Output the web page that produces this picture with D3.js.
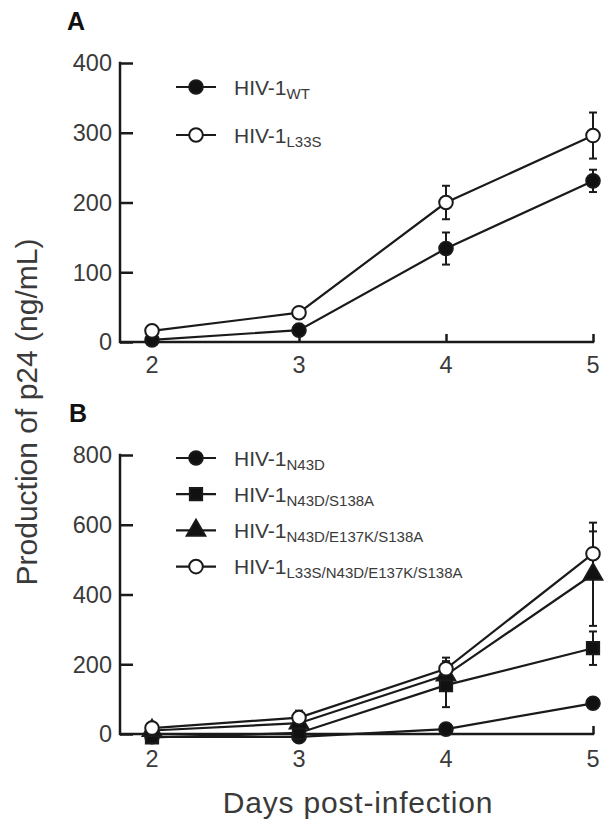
<!DOCTYPE html>
<html><head><meta charset="utf-8">
<script src="https://cdn.jsdelivr.net/npm/d3@7"></script>
<style>body{margin:0;background:#fff}svg{display:block}text{font-family:"Liberation Sans",Arial,sans-serif;fill:#3a3a3a}</style>
</head><body><div id="chart"></div>
<script>
const days = [2, 3, 4, 5];
const xTickLabels = ["2", "3", "4", "5"];
const yTicksA = [0, 100, 200, 300, 400];
const yTicksB = [0, 200, 400, 600, 800];

// Panel A
const wtMean = [3, 17, 134, 231];
const wtErr = [2, 4, 23, 16];
const l33sMean = [16, 42, 200, 296];
const l33sErr = [3, 4, 24, 33];

// Panel B
const n43dMean = [-8, -8, 14, 88];
const n43dErr = [2, 2, 5, 6];
const n43dS138aMean = [-10, 3, 140, 246];
const n43dS138aErr = [3, 4, 63, 48];
const tripleMean = [10, 31, 169, 458];
const tripleErr = [4, 8, 40, 148];
const quadMean = [17, 47, 187, 517];
const quadErr = [5, 20, 32, 64];

const seriesA = [
  {sub: "WT", mean: wtMean, err: wtErr, shape: "circle", fill: "#111"},
  {sub: "L33S", mean: l33sMean, err: l33sErr, shape: "circle", fill: "#fff"}
];
const seriesB = [
  {sub: "N43D", mean: n43dMean, err: n43dErr, shape: "circle", fill: "#111"},
  {sub: "N43D/S138A", mean: n43dS138aMean, err: n43dS138aErr, shape: "square", fill: "#111"},
  {sub: "N43D/E137K/S138A", mean: tripleMean, err: tripleErr, shape: "triangle", fill: "#111"},
  {sub: "L33S/N43D/E137K/S138A", mean: quadMean, err: quadErr, shape: "circle", fill: "#fff"}
];

const W = 614, H = 837;
const svg = d3.select("#chart").append("svg").attr("width", W).attr("height", H);
const ink = "#1a1a1a";

const x = d3.scaleLinear().domain([2, 5]).range([152, 593]);
const axisX0 = 120;

function symbolPath(shape) {
  const t = shape === "square" ? d3.symbolSquare : shape === "triangle" ? d3.symbolTriangle : d3.symbolCircle;
  const size = shape === "square" ? 150 : shape === "triangle" ? 150 : 145;
  return d3.symbol().type(t).size(size)();
}

function panel(opts) {
  const y = d3.scaleLinear().domain(opts.domain).range(opts.range);
  const g = svg.append("g");
  g.append("text").attr("x", opts.letterX).attr("y", opts.letterY)
    .style("font-weight", "bold").style("font-size", "25px").style("fill", "#111").text(opts.letter);

  const yAxis = d3.axisRight(y).tickValues(opts.yTicks).tickSize(13).tickFormat("");
  const ya = g.append("g").attr("transform", `translate(${axisX0},0)`).call(yAxis);
  ya.select(".domain").remove();
  ya.selectAll(".tick line").attr("stroke", ink).attr("stroke-width", 2.5);
  g.append("line").attr("x1", axisX0).attr("x2", axisX0)
    .attr("y1", y(opts.domain[1]) - 1.2).attr("y2", y(0) + 1.2)
    .attr("stroke", ink).attr("stroke-width", 2.5);
  g.selectAll(".ylab").data(opts.yTicks).enter().append("text")
    .attr("x", axisX0 - 8).attr("y", d => y(d)).attr("dy", "0.36em")
    .attr("text-anchor", "end").style("font-size", "23.5px").text(d => d);

  const xAxis = d3.axisTop(x).tickValues(days).tickSize(8).tickFormat("");
  const xa = g.append("g").attr("transform", `translate(0,${y(0)})`).call(xAxis);
  xa.select(".domain").remove();
  xa.selectAll(".tick line").attr("stroke", ink).attr("stroke-width", 2.5);
  g.append("line").attr("x1", axisX0).attr("x2", x(5) + 1.2)
    .attr("y1", y(0)).attr("y2", y(0)).attr("stroke", ink).attr("stroke-width", 2.5);
  g.selectAll(".xlab").data(days).enter().append("text")
    .attr("x", d => x(d)).attr("y", y(0) + opts.xLabDy)
    .attr("text-anchor", "middle").style("font-size", "23.5px").text((d, i) => xTickLabels[i]);

  const line = d3.line().x((d, i) => x(days[i])).y(d => y(d));
  opts.series.forEach(s => {
    g.append("path").attr("d", line(s.mean)).attr("fill", "none")
      .attr("stroke", ink).attr("stroke-width", 2.2);
  });
  opts.series.forEach(s => {
    s.mean.forEach((m, i) => {
      const e = s.err[i];
      const cx = x(days[i]);
      g.append("line").attr("x1", cx).attr("x2", cx).attr("y1", y(m - e)).attr("y2", y(m + e))
        .attr("stroke", ink).attr("stroke-width", 2);
      [m - e, m + e].forEach(v => {
        g.append("line").attr("x1", cx - 4).attr("x2", cx + 4).attr("y1", y(v)).attr("y2", y(v))
          .attr("stroke", ink).attr("stroke-width", 2);
      });
    });
  });
  opts.series.forEach(s => {
    s.mean.forEach((m, i) => {
      g.append("path").attr("d", symbolPath(s.shape))
        .attr("transform", `translate(${x(days[i])},${y(m)})`)
        .attr("fill", s.fill).attr("stroke", ink).attr("stroke-width", 2);
    });
  });

  opts.series.forEach((s, i) => {
    const ly = opts.legY + i * opts.legStep;
    g.append("line").attr("x1", 176).attr("x2", 216).attr("y1", ly).attr("y2", ly)
      .attr("stroke", ink).attr("stroke-width", 2.2);
    g.append("path").attr("d", symbolPath(s.shape)).attr("transform", `translate(196,${ly})`)
      .attr("fill", s.fill).attr("stroke", ink).attr("stroke-width", 2);
    const t = g.append("text").attr("x", 234).attr("y", ly + 7.5).style("font-size", "21px");
    t.append("tspan").text("HIV-1");
    t.append("tspan").attr("dy", 4).style("font-size", "15px").text(s.sub);
  });
}

panel({letter: "A", letterX: 67, letterY: 30, domain: [0, 400], range: [342, 63], yTicks: yTicksA,
  series: seriesA, legY: 87, legStep: 48, xLabDy: 31});
panel({letter: "B", letterX: 69, letterY: 422, domain: [0, 800], range: [734, 455], yTicks: yTicksB,
  series: seriesB, legY: 458, legStep: 36.2, xLabDy: 33});

svg.append("text").attr("transform", "translate(37,412) rotate(-90)")
  .attr("text-anchor", "middle").style("font-size", "30px").text("Production of p24 (ng/mL)");
svg.append("text").attr("x", 358).attr("y", 813).attr("text-anchor", "middle")
  .style("font-size", "30px").style("letter-spacing", "0.8px").text("Days post-infection");
</script></body></html>
